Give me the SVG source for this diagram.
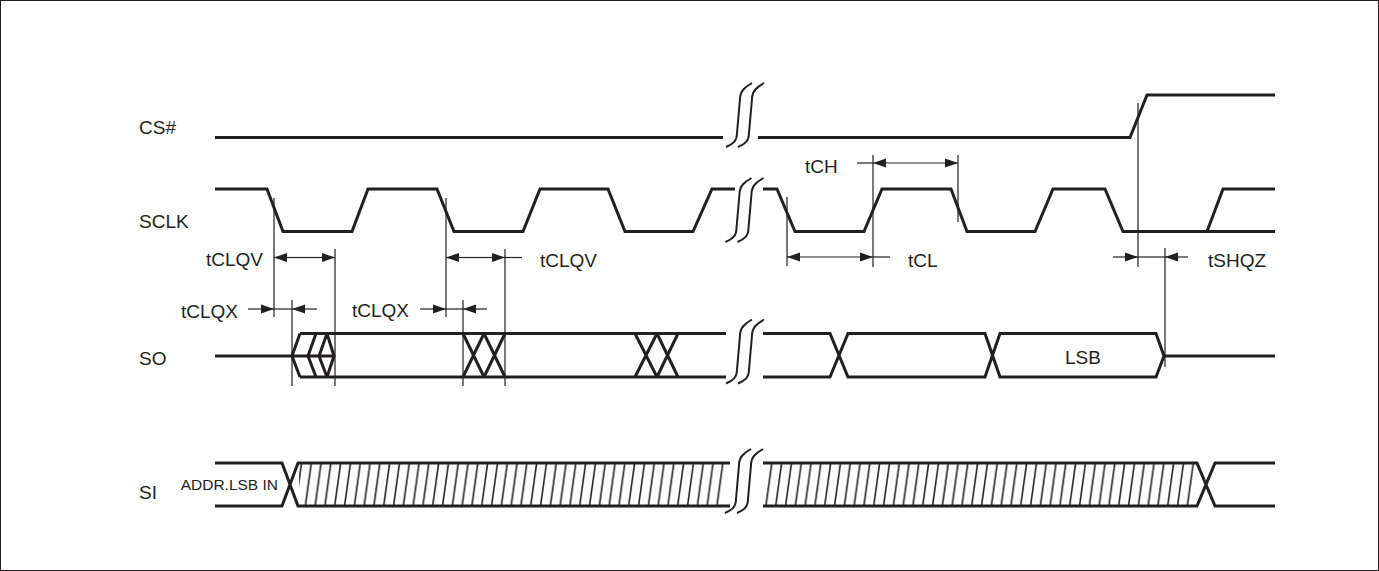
<svg xmlns="http://www.w3.org/2000/svg" width="1379" height="571" viewBox="0 0 1379 571">
<style>
.w{fill:none;stroke:#231f20;stroke-width:3;stroke-linejoin:miter}
.d{fill:none;stroke:#231f20;stroke-width:1.2}
.b{fill:none;stroke:#231f20;stroke-width:2}
.t{font-family:"Liberation Sans",Arial,sans-serif;font-size:19px;fill:#231f20}
.s{font-family:"Liberation Sans",Arial,sans-serif;font-size:15.5px;fill:#231f20}
</style>
<defs>
<marker id="ah" markerUnits="userSpaceOnUse" markerWidth="13" markerHeight="10" refX="13" refY="5" orient="auto-start-reverse" viewBox="0 0 13 10">
<path d="M0,0.5 L13,5 L0,9.5 z" fill="#231f20"/>
</marker>
<path id="brk" d="M-19,32 C-12,29 -8,26 -8,18 L-5,-16 C-5,-24 0,-28 7,-32 M-7,32 C0,29 4,26 4,18 L7,-16 C7,-24 12,-28 19,-32"/>
<pattern id="hatch" patternUnits="userSpaceOnUse" x="0" y="463" width="9.8" height="43">
<line x1="1.5" y1="43" x2="7.5" y2="0" stroke="#231f20" stroke-width="1.6"/>
</pattern>
</defs>
<rect x="0.5" y="0.5" width="1378" height="570" fill="#fff" stroke="#231f20" stroke-width="1"/>

<g id="labels">
<text class="t" x="139" y="134">CS#</text>
<text class="t" x="139" y="228">SCLK</text>
<text class="t" x="139" y="365">SO</text>
<text class="t" x="139" y="499">SI</text>
</g>

<g id="cs">
<path class="w" d="M215,137.5 L723,137.5 M758,137.5 L1130,137.5 L1147,95 L1275,95"/>
</g>

<g id="sclk">
<path class="w" d="M215,189 L267,189 L283,231.5 L352,231.5 L368,189 L437,189 L454,231.5 L523,231.5 L540,189 L608,189 L625,231.5 L693,231.5 L712,189 L735,189"/>
<path class="w" d="M763,189 L777,189 L795,231.5 L864,231.5 L882,189 L951,189 L967,231.5 L1035,231.5 L1053,189 L1105,189 L1123,231.5 L1207,231.5 L1223,189 L1275,189 M1207,231.5 L1275,231.5"/>
</g>

<g id="so">
<path class="w" d="M215,356 L292,356 L334,356"/>
<path class="w" d="M300,333.5 L292,356 L300,377 M316,333.5 L308,356 L316,377 M327,333.5 L319,356 L327,377 M327,333.5 L334,356 L327,377"/>
<path class="w" d="M300,333.5 L726,333.5 M300,377 L726,377"/>
<path class="w" d="M463,333.5 L484,377 M463,377 L484,333.5 M484,333.5 L505,377 M484,377 L505,333.5 M635,333.5 L657,377 M635,377 L657,333.5 M657,333.5 L678,377 M657,377 L678,333.5"/>
<path class="w" d="M763,333.5 L830,333.5 L848,377 L985,377 L1000,333.5 L1156,333.5 L1164,356 L1156,377 L1000,377 L985,333.5 L848,333.5 L830,377 L763,377 M1164,356 L1275,356"/>
<text class="t" x="1065" y="364">LSB</text>
</g>

<g id="si">
<rect x="299" y="463" width="425" height="43" fill="url(#hatch)"/>
<rect x="765" y="463" width="430" height="43" fill="url(#hatch)"/>
<path class="w" d="M215,463 L282,463 L298,506 L730,506 M215,506 L282,506 L298,463 L730,463"/>
<path class="w" d="M763,463 L1197,463 L1215,506 L1275,506 M763,506 L1197,506 L1215,463 L1275,463"/>
<text class="s" x="278" y="490" text-anchor="end">ADDR.LSB IN</text>
</g>

<g id="breaks" class="b">
<use href="#brk" x="745" y="115"/>
<use href="#brk" x="744.5" y="210"/>
<use href="#brk" x="745" y="351.5"/>
<use href="#brk" x="744" y="481"/>
</g>

<g id="connectors">
<path class="d" d="M274,198 L274,317 M335,249 L335,386 M292,300 L292,386 M446,198 L446,317 M463,300 L463,386 M505,249 L505,386 M787,197 L787,266 M873,155 L873,267 M958,155 L958,222 M1138,103 L1138,267 M1165,248 L1165,367"/>
<line class="d" x1="304" y1="257.5" x2="274" y2="257.5" marker-end="url(#ah)"/>
<line class="d" x1="304" y1="257.5" x2="335" y2="257.5" marker-end="url(#ah)"/>
<line class="d" x1="476" y1="257.5" x2="446" y2="257.5" marker-end="url(#ah)"/>
<line class="d" x1="476" y1="257.5" x2="505" y2="257.5" marker-end="url(#ah)"/>
<line class="d" x1="505" y1="257.5" x2="522" y2="257.5"/>
<line class="d" x1="915" y1="163" x2="873" y2="163" marker-end="url(#ah)"/>
<line class="d" x1="915" y1="163" x2="958" y2="163" marker-end="url(#ah)"/>
<line class="d" x1="857" y1="163" x2="873" y2="163"/>
<line class="d" x1="830" y1="257" x2="787" y2="257" marker-end="url(#ah)"/>
<line class="d" x1="830" y1="257" x2="873" y2="257" marker-end="url(#ah)"/>
<line class="d" x1="873" y1="257" x2="890" y2="257"/>
<line class="d" x1="248" y1="309" x2="274" y2="309" marker-end="url(#ah)"/>
<line class="d" x1="317" y1="309" x2="292" y2="309" marker-end="url(#ah)"/>
<line class="d" x1="274" y1="309" x2="292" y2="309"/>
<line class="d" x1="420" y1="309" x2="446" y2="309" marker-end="url(#ah)"/>
<line class="d" x1="487" y1="309" x2="463" y2="309" marker-end="url(#ah)"/>
<line class="d" x1="446" y1="309" x2="463" y2="309"/>
<line class="d" x1="1113" y1="257" x2="1138" y2="257" marker-end="url(#ah)"/>
<line class="d" x1="1188" y1="257" x2="1165" y2="257" marker-end="url(#ah)"/>
<line class="d" x1="1138" y1="257" x2="1165" y2="257"/>
</g>

<g id="timing-labels">
<text class="t" x="206" y="266">tCLQV</text>
<text class="t" x="540" y="267">tCLQV</text>
<text class="t" x="181" y="318">tCLQX</text>
<text class="t" x="352" y="317">tCLQX</text>
<text class="t" x="805" y="173">tCH</text>
<text class="t" x="908" y="267">tCL</text>
<text class="t" x="1208" y="267">tSHQZ</text>
</g>
</svg>
